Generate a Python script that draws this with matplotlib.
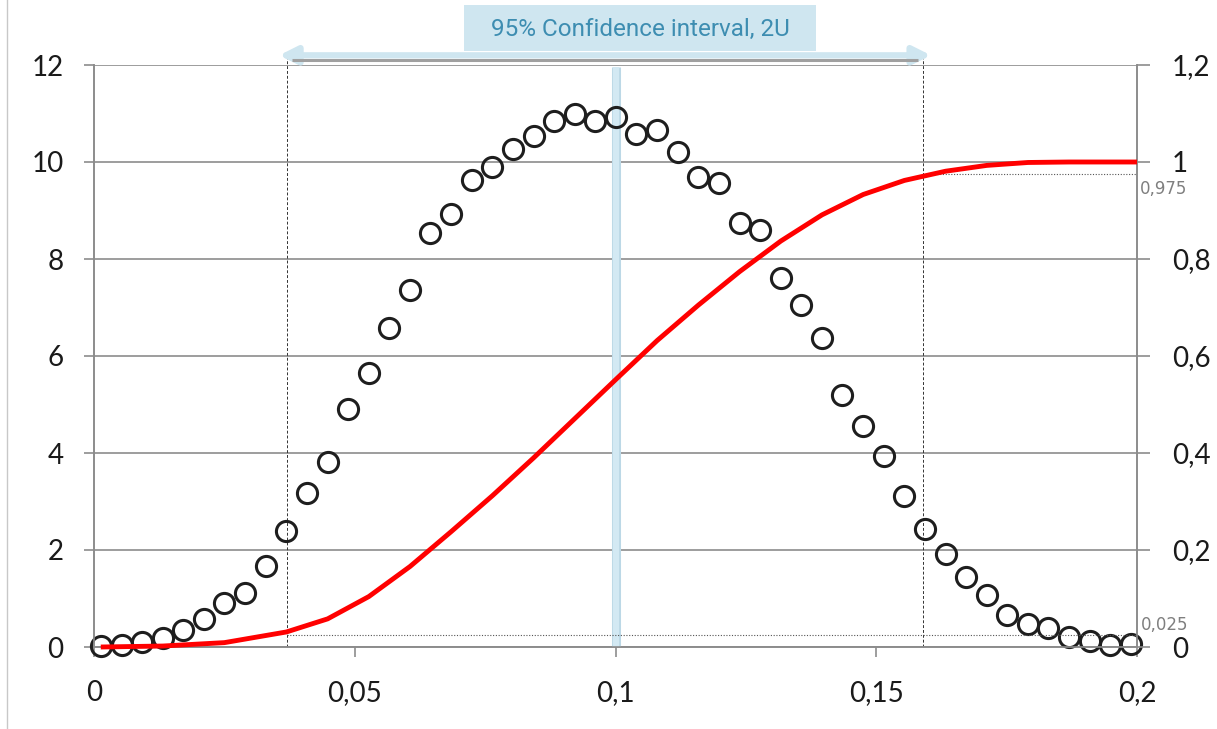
import matplotlib
matplotlib.use('Agg')
import matplotlib.pyplot as plt
from matplotlib.lines import Line2D
from matplotlib.patches import Rectangle
from matplotlib.ticker import FuncFormatter

# ---- data ----
point_x = [0.0013, 0.0053, 0.0092, 0.0132, 0.0171, 0.0211, 0.0250, 0.0290, 0.0329, 0.0369,
           0.0408, 0.0448, 0.0487, 0.0527, 0.0566, 0.0606, 0.0645, 0.0685, 0.0724, 0.0764,
           0.0803, 0.0843, 0.0882, 0.0922, 0.0961, 0.1001, 0.1040, 0.1080, 0.1119, 0.1159,
           0.1198, 0.1238, 0.1277, 0.1317, 0.1356, 0.1396, 0.1435, 0.1475, 0.1514, 0.1554,
           0.1593, 0.1633, 0.1672, 0.1712, 0.1751, 0.1791, 0.1830, 0.1870, 0.1909, 0.1949,
           0.1988]
point_y = [0.02, 0.04, 0.11, 0.18, 0.35, 0.58, 0.90, 1.12, 1.68, 2.40,
           3.17, 3.81, 4.91, 5.64, 6.58, 7.37, 8.54, 8.92, 9.62, 9.90,
           10.27, 10.53, 10.84, 10.98, 10.84, 10.93, 10.57, 10.67, 10.20, 9.69,
           9.56, 8.74, 8.59, 7.60, 7.06, 6.38, 5.20, 4.56, 3.93, 3.12,
           2.43, 1.91, 1.44, 1.07, 0.66, 0.47, 0.40, 0.20, 0.12, 0.04,
           0.06]

cdf_x = [0.0013, 0.0132, 0.0250, 0.0369, 0.0448, 0.0527, 0.0606, 0.0685, 0.0764, 0.0843,
         0.0922, 0.1001, 0.1080, 0.1159, 0.1238, 0.1317, 0.1396, 0.1475, 0.1554, 0.1633,
         0.1712, 0.1791, 0.1870, 0.1988]
cdf_y = [0.0, 0.002, 0.009, 0.031, 0.058, 0.104, 0.166, 0.238, 0.312, 0.390,
         0.471, 0.552, 0.632, 0.705, 0.774, 0.837, 0.891, 0.933, 0.962, 0.981,
         0.993, 0.999, 1.0, 1.0]

ci_low, ci_high, centre = 0.037, 0.159, 0.1
p_low, p_high = 0.025, 0.975
title_text = '95% Confidence interval, 2U'

x_ticks = [0, 0.05, 0.1, 0.15, 0.2]
left_ticks = [0, 2, 4, 6, 8, 10, 12]
right_ticks = [0, 0.2, 0.4, 0.6, 0.8, 1.0, 1.2]

W, H = 1217, 729
GRID = '#8c8c8c'


def comma(v, _pos=None):
    return f'{v:g}'.replace('.', ',')


fig = plt.figure(figsize=(W / 100, H / 100), dpi=100)
ax = fig.add_axes([94 / W, 82 / H, (1137 - 94) / W, (647 - 65) / H])
ax2 = ax.twinx()

ax.set_xlim(0, 0.2)
ax.set_ylim(0, 12)
ax2.set_ylim(0, 1.2)

# axes styling
for a in (ax, ax2):
    a.spines['top'].set_visible(False)
    for s in ('left', 'right', 'bottom'):
        a.spines[s].set_color(GRID)
        a.spines[s].set_linewidth(1.2)
ax.set_xticks(x_ticks)
ax.set_yticks(left_ticks)
ax2.set_yticks(right_ticks)
ax.xaxis.set_major_formatter(FuncFormatter(comma))
ax.yaxis.set_major_formatter(FuncFormatter(comma))
ax2.yaxis.set_major_formatter(FuncFormatter(comma))
ax.yaxis.grid(True, color=GRID, linewidth=1.2)
ax.set_axisbelow(True)
ax.tick_params(axis='y', direction='out', length=7, width=1.2, color=GRID,
               pad=15, labelsize=20, labelcolor='#1a1a1a')
ax.tick_params(axis='x', direction='out', length=7, width=1.2, color=GRID,
               pad=17, labelsize=20, labelcolor='#1a1a1a')
ax2.tick_params(axis='y', direction='out', length=9, width=1.2, color=GRID,
                pad=16, labelsize=20, labelcolor='#1a1a1a')
for lab in ax.get_xticklabels() + ax.get_yticklabels() + ax2.get_yticklabels():
    lab.set_family('Lato')

# confidence bounds
for xv in (ci_low, ci_high):
    ax.plot([xv, xv], [0, 12.2], color='#333333', lw=0.7, ls=(0, (3, 2)),
            clip_on=False, zorder=2)
ax.plot([centre, centre], [0, 11.95], color='#bcd8e6', lw=6.5, zorder=3,
        solid_capstyle='butt')
ax.plot([centre, centre], [0, 11.95], color='#d3e9f3', lw=4.5, zorder=3,
        solid_capstyle='butt')

# density points
ax.plot(point_x, point_y, 'o', ms=14.5, mfc='none', mec='#1e1e1e', mew=2.2,
        zorder=4, clip_on=False)

# percentile guides and cumulative curve
ax2.plot([ci_high, 0.2], [p_high, p_high], color='#555555', lw=0.8,
         ls=(0, (1, 1.5)), zorder=2)
ax2.plot([ci_low, 0.2], [p_low, p_low], color='#555555', lw=0.8,
         ls=(0, (1, 1.5)), zorder=2)
ax2.plot(cdf_x + [0.2], cdf_y + [1.0], color='#ff0000', lw=3.5, zorder=5,
         solid_capstyle='butt', solid_joinstyle='round', clip_on=False)
ax2.annotate(comma(p_high), xy=(0.2, p_high), xytext=(2, -11),
             textcoords='offset points', ha='left', va='center',
             fontsize=12, color='#7f7f7f', annotation_clip=False)
ax2.annotate(comma(p_low), xy=(0.2, p_low), xytext=(3, 7),
             textcoords='offset points', ha='left', va='center',
             fontsize=12, color='#7f7f7f', annotation_clip=False)

# interval arrow along the top (grey shadow under a pale blue arrow)
ax.plot([ci_low + 0.001, ci_high - 0.001], [12.1, 12.1], color='#a0a0a0', lw=2.2,
        clip_on=False, zorder=5, solid_capstyle='butt')
ax.annotate('', xy=(ci_low - 0.0015, 12.2), xytext=(ci_high + 0.0015, 12.2),
            xycoords='data', annotation_clip=False,
            arrowprops=dict(arrowstyle='<|-|>', color='#cfe6f0', lw=4.5,
                            mutation_scale=26, shrinkA=0, shrinkB=0))

# title box
fig.add_artist(Rectangle((464 / W, 1 - 51 / H), 352 / W, 46 / H,
                         transform=fig.transFigure, facecolor='#cfe6f0',
                         edgecolor='none'))
fig.text(640 / W, 1 - 29 / H, title_text, ha='center', va='center',
         fontsize=17.5, color='#3d8db1', family='Roboto')

# thin border on the left edge of the picture
fig.add_artist(Line2D([7 / W, 7 / W], [0, 1], transform=fig.transFigure,
                      color='#c8c8c8', lw=1))

fig.savefig('out.png', dpi=100)
